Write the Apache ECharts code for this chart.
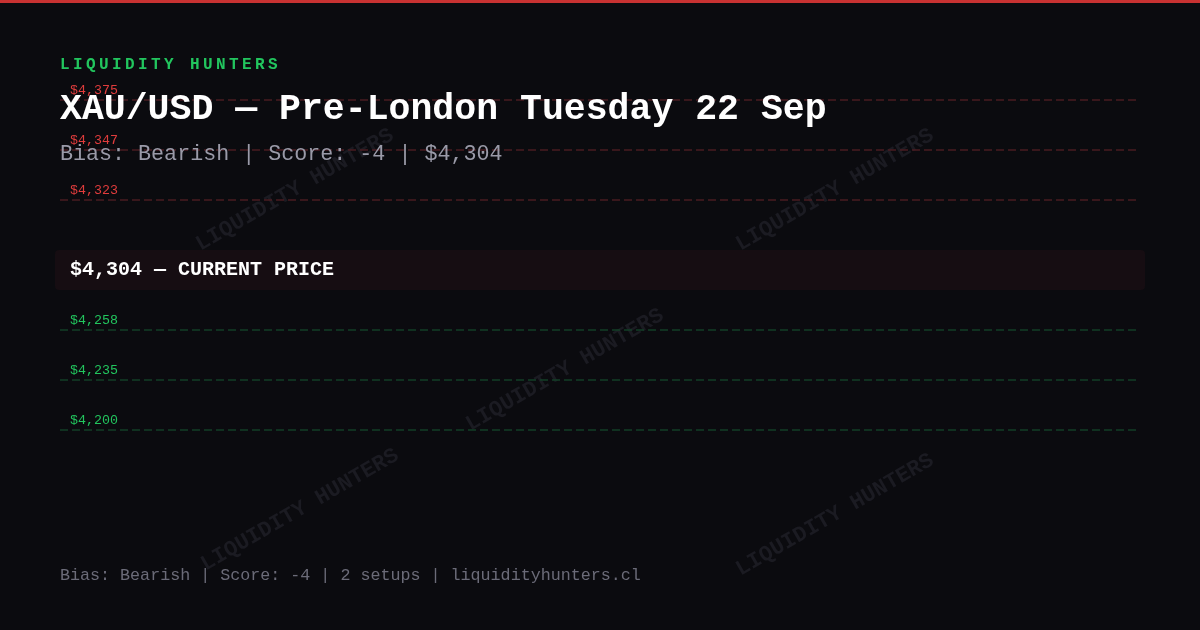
<!DOCTYPE html>
<html>
<head>
<meta charset="utf-8">
<script src="https://cdn.jsdelivr.net/npm/echarts@6/dist/echarts.min.js"></script>
<style>
  html, body { margin: 0; padding: 0; background: #0b0b0f; }
  #chart { width: 1200px; height: 630px; }
</style>
</head>
<body>
<div id="chart"></div>
<script>
// levels (top to bottom)
var resistanceLevels = [4375, 4347, 4323];
var supportLevels = [4258, 4235, 4200];
var currentPrice = 4304;
var biasText = 'Bearish';
var score = -4;
var setups = 2;

var MONO = '"Liberation Mono", "DejaVu Sans Mono", monospace';

function fmt(v) {
  return '$' + v.toLocaleString('en-US');
}

var resLabels = resistanceLevels.map(fmt);
var supLabels = supportLevels.map(fmt);

function levelSeries(idx, labels, lineColor, textColor) {
  return {
    type: 'line',
    xAxisIndex: idx,
    yAxisIndex: idx,
    data: labels.map(function (l) { return [0, l]; }),
    showSymbol: false,
    lineStyle: { width: 0 },
    silent: true,
    markLine: {
      symbol: 'none',
      silent: true,
      lineStyle: { color: lineColor, type: [8, 4], width: 1.5 },
      label: {
        show: true,
        position: 'insideStartTop',
        distance: [10, 3],
        formatter: '{b}',
        color: textColor,
        fontFamily: MONO,
        fontSize: 13.3
      },
      data: labels.map(function (l) { return { name: l, yAxis: l }; })
    }
  };
}

// watermark text as graphic
var wmCenters = [[295, 190], [835, 190], [565, 370], [300, 510], [835, 515]];
var graphics = [
  { type: 'rect', left: 0, top: 0, shape: { width: 1200, height: 3 }, style: { fill: '#c83232' }, z: 10 }
];
wmCenters.forEach(function (c) {
  graphics.push({
    type: 'text', x: c[0], y: c[1], rotation: Math.PI / 6, z: 0,
    style: {
      text: 'LIQUIDITY HUNTERS', fill: '#1b1b22', font: 'bold 22px ' + MONO,
      align: 'center', verticalAlign: 'middle'
    }
  });
});

// brand header, letter spaced
var brand = 'LIQUIDITY HUNTERS';
brand.split('').forEach(function (ch, i) {
  graphics.push({
    type: 'text', x: 60 + i * 13, y: 65, z: 20,
    style: { text: ch, fill: '#22c55e', font: 'bold 16px ' + MONO, verticalAlign: 'middle' }
  });
});

graphics.push(
  {
    type: 'text', x: 60, y: 110, z: 20,
    style: { text: 'XAU/USD \u2014 Pre-London Tuesday 22 Sep', fill: '#ffffff', font: 'bold 36.5px ' + MONO, verticalAlign: 'middle' }
  },
  {
    type: 'text', x: 60, y: 154, z: 20,
    style: { text: 'Bias: ' + biasText + ' | Score: ' + score + ' | ' + fmt(currentPrice), fill: '#9a9aa8', font: '21.7px ' + MONO, verticalAlign: 'middle' }
  },
  {
    type: 'rect', x: 55, y: 250, z: 5,
    shape: { width: 1090, height: 40, r: 4 }, style: { fill: '#160d12' }
  },
  {
    type: 'text', x: 70, y: 270, z: 20,
    style: { text: fmt(currentPrice) + ' \u2014 CURRENT PRICE', fill: '#ffffff', font: 'bold 20px ' + MONO, verticalAlign: 'middle' }
  },
  {
    type: 'text', x: 60, y: 576, z: 20,
    style: { text: 'Bias: ' + biasText + ' | Score: ' + score + ' | ' + setups + ' setups | liquidityhunters.cl', fill: '#6b6b78', font: '16.7px ' + MONO, verticalAlign: 'middle' }
  }
);

var chart = echarts.init(document.getElementById('chart'));
chart.setOption({
  backgroundColor: '#0b0b0f',
  animation: false,
  grid: [
    { left: 60, right: 64, top: 100, height: 100 },
    { left: 60, right: 64, top: 330, height: 100 }
  ],
  xAxis: [
    { gridIndex: 0, type: 'value', min: 0, max: 1, show: false },
    { gridIndex: 1, type: 'value', min: 0, max: 1, show: false }
  ],
  yAxis: [
    { gridIndex: 0, type: 'category', data: resLabels, inverse: true, boundaryGap: false, show: false },
    { gridIndex: 1, type: 'category', data: supLabels, inverse: true, boundaryGap: false, show: false }
  ],
  series: [
    levelSeries(0, resLabels, '#4a1c22', '#e03c3c'),
    levelSeries(1, supLabels, '#133f27', '#22c55e')
  ],
  graphic: graphics
});
</script>
</body>
</html>
